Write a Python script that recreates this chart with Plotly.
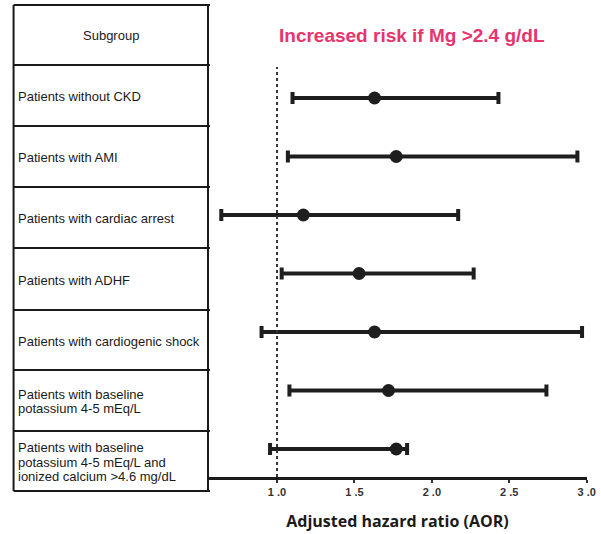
import plotly.graph_objects as go

# ---- data ----
subgroups = [
    "Patients without CKD",
    "Patients with AMI",
    "Patients with cardiac arrest",
    "Patients with ADHF",
    "Patients with cardiogenic shock",
    "Patients with baseline<br>potassium 4-5 mEq/L",
    "Patients with baseline<br>potassium 4-5 mEq/L and<br>ionized calcium >4.6 mg/dL",
]
hr = [1.63, 1.77, 1.17, 1.53, 1.63, 1.72, 1.77]
ci_low = [1.10, 1.07, 0.64, 1.03, 0.90, 1.08, 0.955]
ci_high = [2.43, 2.94, 2.17, 2.27, 2.97, 2.74, 1.84]
tick_vals = [1.0, 1.5, 2.0, 2.5, 3.0]
tick_text = ["1 .0", "1 .5", "2 .0", "2 .5", "3 .0"]
header = "Subgroup"
title_text = "Increased risk if Mg >2.4 g/dL"
x_title = "Adjusted hazard ratio (AOR)"

# ---- layout geometry (pixels) ----
W, H = 601, 534
plot_l, plot_r = 208, 592
plot_t, plot_b = 5, 477
row_lines_px = [5, 65, 126, 187, 248, 310, 370, 431, 491]
table_left_px = 11
line_gap_px = 14.5

def px_x(p):
    return (p - plot_l) / (plot_r - plot_l)

def px_y(p):
    return (plot_b - p) / (plot_b - plot_t)

ypos = list(range(1, len(subgroups) + 1))
first_px, step_px = 98, 58.5
y_top = 1 + (plot_t - first_px) / step_px
y_bot = 1 + (plot_b - first_px) / step_px

fig = go.Figure()

# reference line
fig.add_shape(type="line", xref="x", yref="paper", x0=1.0, x1=1.0,
              y0=0, y1=px_y(67), line=dict(color="#333", width=2, dash="dot"))

fig.add_trace(go.Scatter(
    x=hr, y=ypos, mode="markers",
    marker=dict(size=13, color="#1e1e1e"),
    error_x=dict(type="data", symmetric=False,
                 array=[h - m for h, m in zip(ci_high, hr)],
                 arrayminus=[m - l for m, l in zip(hr, ci_low)],
                 color="#1e1e1e", thickness=4, width=6),
    showlegend=False, hoverinfo="skip",
))

# table
xl, xr = px_x(table_left_px), px_x(plot_l)
for p in row_lines_px:
    fig.add_shape(type="line", xref="paper", yref="paper",
                  x0=xl, x1=px_x(plot_l + 2), y0=px_y(p), y1=px_y(p),
                  line=dict(color="#1a1a1a", width=2))
for xx in (xl, xr):
    fig.add_shape(type="line", xref="paper", yref="paper",
                  x0=xx, x1=xx, y0=px_y(row_lines_px[0]), y1=px_y(row_lines_px[-1]),
                  line=dict(color="#1a1a1a", width=2))

label_font = dict(family="Liberation Sans, Arial", size=13, color="#1a1a1a")
annotations = [dict(xref="paper", yref="paper",
                    x=(xl + xr) / 2, y=px_y((row_lines_px[0] + row_lines_px[1]) / 2),
                    text=header, showarrow=False, xanchor="center", yanchor="middle",
                    font=label_font)]
for i, lab in enumerate(subgroups):
    yc = (row_lines_px[i + 1] + row_lines_px[i + 2]) / 2 + 1
    parts = lab.split("<br>")
    n = len(parts)
    for j, part in enumerate(parts):
        yl = yc + (j - (n - 1) / 2) * line_gap_px
        annotations.append(dict(xref="paper", yref="paper", x=px_x(13), y=px_y(yl),
                                text=part, showarrow=False, xanchor="left", yanchor="middle",
                                align="left", font=label_font))
annotations.append(dict(xref="paper", yref="paper", x=px_x(415), y=px_y(35),
                        text="<b>" + title_text + "</b>", showarrow=False,
                        xanchor="center", yanchor="middle",
                        font=dict(family="Liberation Sans, Arial", size=19, color="#E8336D")))
fig.update_layout(annotations=annotations)

fig.update_layout(
    width=W, height=H,
    margin=dict(l=plot_l, r=W - plot_r, t=plot_t, b=H - plot_b, pad=0),
    paper_bgcolor="white", plot_bgcolor="white",
    xaxis=dict(range=[1 + (plot_l - 278) / 157, 3.002], tickvals=tick_vals,
               ticktext=["<b>" + t + "</b>" for t in tick_text],
               showgrid=False, zeroline=False, showline=True, linecolor="#1a1a1a",
               linewidth=3, ticks="outside", ticklen=3, tickwidth=2, tickcolor="#333",
               tickfont=dict(family="Liberation Sans, Arial", size=11, color="#333"),
               title=dict(text="<b>" + x_title + "</b>", standoff=19,
                          font=dict(family="Open Sans", size=16, color="#1a1a1a"))),
    yaxis=dict(range=[y_bot, y_top], visible=False),
)

fig.write_html("out.html", config={"displayModeBar": False},
               post_script="document.body.style.margin='0';")
